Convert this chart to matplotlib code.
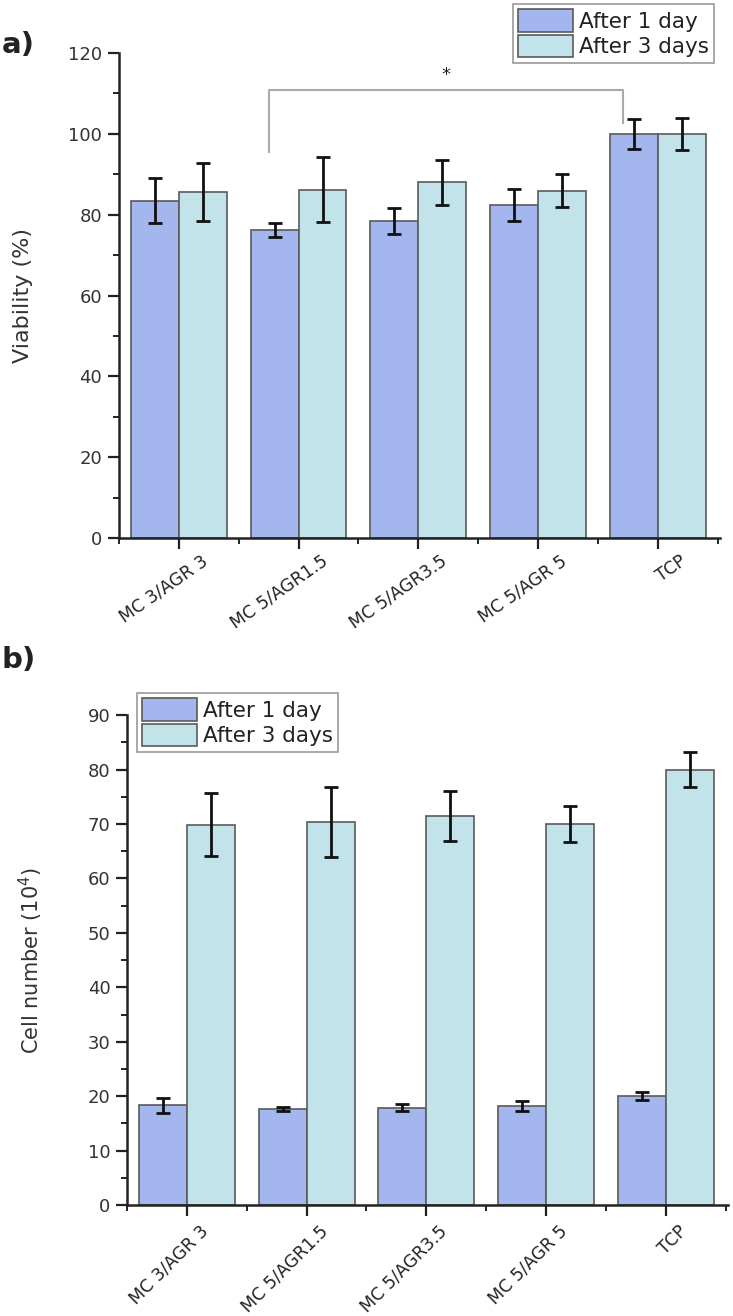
import numpy as np
import matplotlib
matplotlib.use("Agg")
import matplotlib.pyplot as plt
import matplotlib.transforms as mtransforms
from matplotlib.ticker import MultipleLocator, FixedLocator

plt.rcParams['font.family'] = ['DejaVu Sans']

groups = ["MC 3/AGR 3", "MC 5/AGR1.5", "MC 5/AGR3.5", "MC 5/AGR 5", "TCP"]
series = ["After 1 day", "After 3 days"]

# a) viability (%)
via_day1 = [83.5, 76.2, 78.5, 82.4, 100.0]
via_day1_err = [5.5, 1.8, 3.2, 4.0, 3.8]
via_day3 = [85.6, 86.2, 88.0, 85.9, 100.0]
via_day3_err = [7.2, 8.0, 5.6, 4.1, 4.0]

# b) cell number (10^4)
cell_day1 = [18.3, 17.6, 17.9, 18.2, 20.0]
cell_day1_err = [1.3, 0.4, 0.7, 0.9, 0.75]
cell_day3 = [69.9, 70.4, 71.4, 70.0, 80.0]
cell_day3_err = [5.8, 6.4, 4.6, 3.3, 3.2]

c1 = "#a3b6ee"
c3 = "#c2e3ea"
edge = "#5a5a5a"
w = 0.4

fig = plt.figure(figsize=(7.33, 13.16), dpi=100)
ax_a = fig.add_axes([0.1623, 0.5912, 0.820, 0.3685])
ax_b = fig.add_axes([0.1733, 0.0843, 0.820, 0.3723])


def draw(ax, d1, e1, d3, e3, rot, dx, dy):
    x = np.arange(len(groups))
    eb = dict(ecolor="#111111", elinewidth=2, capsize=5, capthick=2)
    ax.bar(x - w / 2, d1, w, yerr=e1, color=c1, edgecolor=edge, linewidth=1.2,
           error_kw=eb, label=series[0], zorder=2)
    ax.bar(x + w / 2, d3, w, yerr=e3, color=c3, edgecolor=edge, linewidth=1.2,
           error_kw=eb, label=series[1], zorder=2)
    ax.set_xlim(-0.5, 4.52)
    ax.set_xticks(x)
    ax.xaxis.set_minor_locator(FixedLocator(np.arange(-0.5, 5, 1.0)))
    for s in ["top", "right"]:
        ax.spines[s].set_visible(False)
    for s in ["left", "bottom"]:
        ax.spines[s].set_linewidth(1.8)
        ax.spines[s].set_color("#222222")
    ax.tick_params(which="major", length=8, width=1.6, direction="out",
                   labelsize=13, colors="#222222", pad=4)
    ax.tick_params(which="minor", length=4, width=1.4, direction="out",
                   colors="#222222")
    for lab in ax.get_yticklabels():
        lab.set_color("#333333")
        lab.set_fontsize(13)
    ax.set_xticklabels(groups, rotation=rot, ha="right", va="top",
                       rotation_mode="anchor", fontsize=12.5, color="#222222")
    # shift labels after tick_params so the transform is kept
    shift = mtransforms.ScaledTranslation(dx / 100, dy / 100, fig.dpi_scale_trans)
    for lab in ax.get_xticklabels():
        lab.set_transform(lab.get_transform() + shift)


draw(ax_a, via_day1, via_day1_err, via_day3, via_day3_err, 35, 22, 3)
ax_a.set_ylim(0, 120)
ax_a.yaxis.set_major_locator(MultipleLocator(20))
ax_a.yaxis.set_minor_locator(MultipleLocator(10))
ax_a.set_ylabel("Viability (%)", fontsize=16, color="#333333")
ax_a.yaxis.set_label_coords(-0.143, 0.5)

# significance bracket
ax_a.plot([0.75, 0.75, 3.71, 3.71], [95.5, 110.9, 110.9, 102.7],
          color="#aaaaaa", linewidth=1.5, clip_on=False, zorder=1)
ax_a.text(2.23, 114.5, "*", ha="center", va="center", fontsize=13, color="#222222")

draw(ax_b, cell_day1, cell_day1_err, cell_day3, cell_day3_err, 45, 12, 0)
ax_b.set_ylim(0, 90)
ax_b.yaxis.set_major_locator(MultipleLocator(10))
ax_b.yaxis.set_minor_locator(MultipleLocator(5))
ax_b.set_ylabel("Cell number (10$^4$)", fontsize=15, color="#333333")
ax_b.yaxis.set_label_coords(-0.136, 0.5)

leg_kw = dict(fontsize=15.5, handlelength=2.55, handleheight=1.25, labelspacing=0.12,
              handletextpad=0.25, borderpad=0.25, borderaxespad=0, fancybox=False,
              edgecolor="#999999", framealpha=1)
leg_a = ax_a.legend(loc="upper right", bbox_to_anchor=(714 / 733, 1 - 4 / 1316),
                    bbox_transform=fig.transFigure, **leg_kw)
leg_b = ax_b.legend(loc="upper left", bbox_to_anchor=(137 / 733, 1 - 693 / 1316),
                    bbox_transform=fig.transFigure, **leg_kw)
for leg in (leg_a, leg_b):
    leg.get_frame().set_linewidth(1.2)
    for t in leg.get_texts():
        t.set_color("#222222")

fig.text(2 / 733, 1 - 45 / 1316, "a)", fontsize=21, fontweight="bold",
         va="center", ha="left", color="#222222")
fig.text(2 / 733, 1 - 660 / 1316, "b)", fontsize=21, fontweight="bold",
         va="center", ha="left", color="#222222")

fig.savefig("out.png", dpi=100)
